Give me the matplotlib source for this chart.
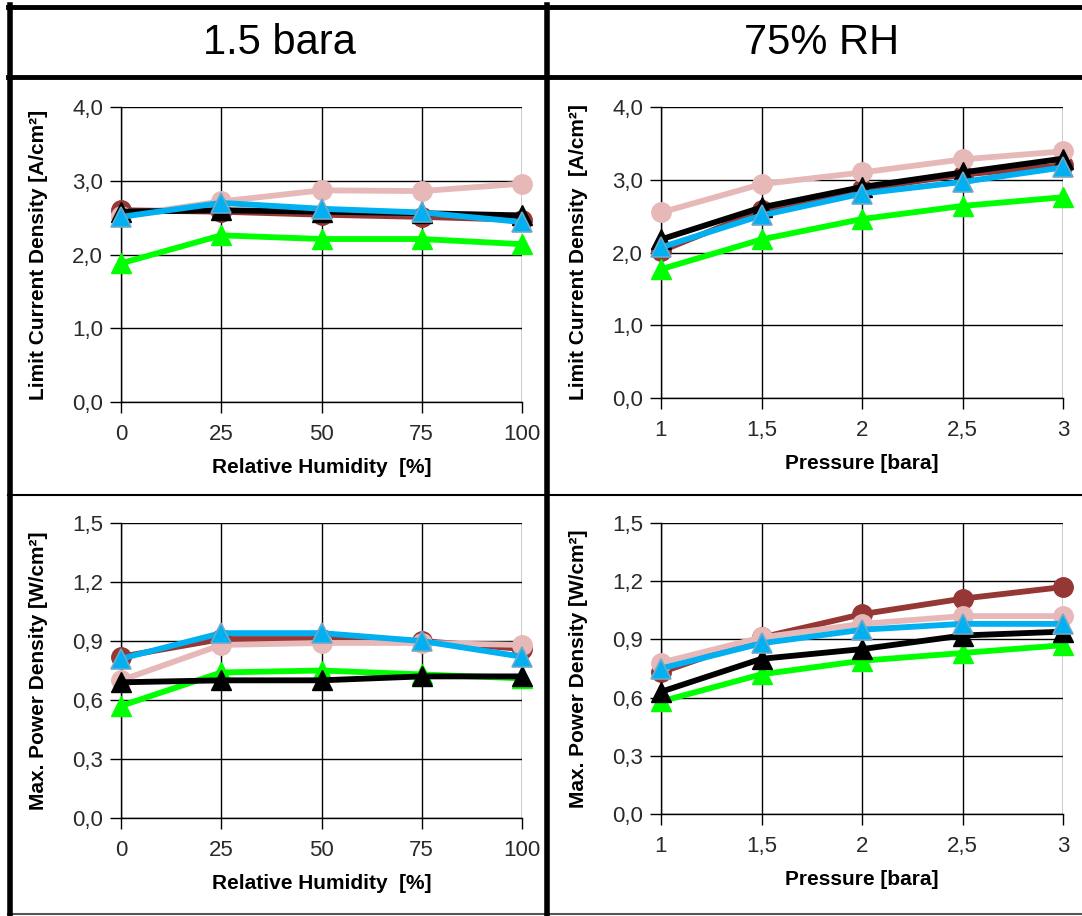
import matplotlib
matplotlib.use("Agg")
import matplotlib.pyplot as plt
from matplotlib.lines import Line2D

plt.rcParams['font.family'] = ['Liberation Sans', 'DejaVu Sans']

# ── data ─────────────────────────────────────────────────────────────────────
rh = [0, 25, 50, 75, 100]
p_bara = [1, 1.5, 2, 2.5, 3]
p_labels = ["1", "1,5", "2", "2,5", "3"]

# limit current density vs RH (1.5 bara)
lcd_rh_brown = [2.60, 2.58, 2.54, 2.51, 2.47]
lcd_rh_pink  = [2.52, 2.72, 2.87, 2.86, 2.96]
lcd_rh_green = [1.88, 2.26, 2.21, 2.21, 2.14]
lcd_rh_black = [2.58, 2.60, 2.58, 2.56, 2.53]
lcd_rh_blue  = [2.51, 2.70, 2.62, 2.57, 2.44]

# limit current density vs pressure (75% RH)
lcd_p_brown = [2.02, 2.58, 2.87, 3.07, 3.20]
lcd_p_pink  = [2.55, 2.94, 3.10, 3.28, 3.39]
lcd_p_green = [1.77, 2.18, 2.46, 2.64, 2.76]
lcd_p_black = [2.18, 2.62, 2.90, 3.10, 3.29]
lcd_p_blue  = [2.07, 2.51, 2.81, 2.97, 3.17]

# max power density vs RH
mpd_rh_brown = [0.82, 0.91, 0.91, 0.90, 0.86]
mpd_rh_pink  = [0.70, 0.88, 0.89, 0.89, 0.88]
mpd_rh_green = [0.57, 0.74, 0.75, 0.73, 0.71]
mpd_rh_black = [0.69, 0.70, 0.70, 0.72, 0.72]
mpd_rh_blue  = [0.81, 0.94, 0.94, 0.90, 0.82]

# max power density vs pressure
mpd_p_brown = [0.73, 0.91, 1.03, 1.11, 1.17]
mpd_p_pink  = [0.78, 0.91, 0.98, 1.02, 1.02]
mpd_p_green = [0.58, 0.72, 0.79, 0.83, 0.87]
mpd_p_black = [0.63, 0.80, 0.85, 0.92, 0.94]
mpd_p_blue  = [0.75, 0.88, 0.95, 0.98, 0.98]

BROWN = "#953735"
PINK  = "#E6B9B8"
GREEN = "#00FF00"
BLUE  = "#00B0F0"

W, H = 1082, 916
fig = plt.figure(figsize=(W/100, H/100), dpi=100)
fig.patch.set_facecolor("white")

def fx(px): return px / W
def fy(py): return 1 - py / H

def make_ax(l, r, t, b):
    return fig.add_axes([fx(l), fy(b), fx(r) - fx(l), fy(t) - fy(b)])

def style(ax, xt, xtl, xlim, yt, ylim, xlabel, ylabel):
    ax.set_xlim(*xlim); ax.set_ylim(*ylim)
    ax.set_xticks(xt); ax.set_xticklabels(xtl)
    ax.set_yticks(yt); ax.set_yticklabels([f"{v:.1f}".replace(".", ",") for v in yt])
    ax.grid(True, color="black", lw=1.0)
    ax.set_axisbelow(True)
    for s in ["top", "right"]: ax.spines[s].set_visible(False)
    for s in ["left", "bottom"]: ax.spines[s].set_linewidth(1.0)
    ax.tick_params(direction="out", length=8, width=1.0, labelsize=16,
                   labelcolor="#2a2a2a")
    ax.tick_params(axis="x", pad=8)
    ax.tick_params(axis="y", pad=5)
    ax.set_xlabel(xlabel, fontsize=15, fontweight="bold", labelpad=9)
    ax.set_ylabel(ylabel, fontsize=15, fontweight="bold", labelpad=17)

def plot_series(ax, x, brown, pink, green, black, blue):
    kw = dict(lw=4.2, clip_on=False, zorder=3)
    ax.plot(x, brown, color=BROWN, marker="o", ms=14, mec=BROWN, **kw)
    ax.plot(x, pink, color=PINK, marker="o", ms=14, mec=PINK, **kw)
    ax.plot(x, green, color=GREEN, marker="^", ms=15, mec=GREEN, **kw)
    ax.plot(x, black, color="black", marker="^", ms=15, mec="black", **kw)
    ax.plot(x, blue, color=BLUE, marker="^", ms=15, mec="#6fa8c8", mew=1.2, **kw)

ax1 = make_ax(121, 522, 107, 402)
plot_series(ax1, rh, lcd_rh_brown, lcd_rh_pink, lcd_rh_green, lcd_rh_black, lcd_rh_blue)
style(ax1, rh, [str(v) for v in rh], (0, 100), [0, 1, 2, 3, 4], (0, 4),
      "Relative Humidity  [%]", "Limit Current Density [A/cm²]")

ax2 = make_ax(661, 1063, 107, 398)
plot_series(ax2, p_bara, lcd_p_brown, lcd_p_pink, lcd_p_green, lcd_p_black, lcd_p_blue)
style(ax2, p_bara, p_labels, (1, 3), [0, 1, 2, 3, 4], (0, 4),
      "Pressure [bara]", "Limit Current Density  [A/cm²]")

ax3 = make_ax(121, 522, 523, 818)
plot_series(ax3, rh, mpd_rh_brown, mpd_rh_pink, mpd_rh_green, mpd_rh_black, mpd_rh_blue)
style(ax3, rh, [str(v) for v in rh], (0, 100), [0, 0.3, 0.6, 0.9, 1.2, 1.5], (0, 1.5),
      "Relative Humidity  [%]", "Max. Power Density [W/cm²]")

ax4 = make_ax(661, 1063, 523, 814)
plot_series(ax4, p_bara, mpd_p_brown, mpd_p_pink, mpd_p_green, mpd_p_black, mpd_p_blue)
style(ax4, p_bara, p_labels, (1, 3), [0, 0.3, 0.6, 0.9, 1.2, 1.5], (0, 1.5),
      "Pressure [bara]", "Max. Power Density [W/cm²]")

# ── table frame ──────────────────────────────────────────────────────────────
def hline(py, x0, x1, lw, c="black"):
    fig.add_artist(Line2D([fx(x0), fx(x1)], [fy(py), fy(py)], color=c, lw=lw))

def vline(px, y0, y1, lw, c="black"):
    fig.add_artist(Line2D([fx(px), fx(px)], [fy(y0), fy(y1)], color=c, lw=lw))

hline(7, 8, W, 3.5)
hline(77, 8, W, 3.5)
hline(495, 8, W, 1.5)
hline(914, 8, W, 1.5, "#555555")
vline(10, 5, H, 4.0)
vline(547, 5, H, 4.0)

fig.text(fx(279), fy(43), "1.5 bara", ha="center", va="center", fontsize=30)
fig.text(fx(822), fy(43), "75% RH", ha="center", va="center", fontsize=30)

fig.savefig("out.png", dpi=100)
